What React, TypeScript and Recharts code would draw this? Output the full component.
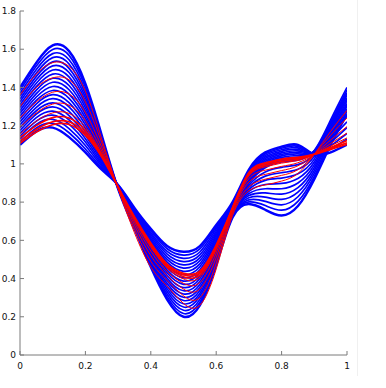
import { LineChart, Line, XAxis, YAxis } from "recharts";

// x positions shared by every curve
const xs = [0, 0.05, 0.1, 0.15, 0.2, 0.25, 0.3, 0.35, 0.4, 0.45, 0.5, 0.55, 0.6, 0.65, 0.7, 0.75, 0.8, 0.85, 0.9, 0.95, 1];

const xTicks = [0, 0.2, 0.4, 0.6, 0.8, 1];
const yTicks = [0, 0.2, 0.4, 0.6, 0.8, 1, 1.2, 1.4, 1.6, 1.8];

// blue family, from the tall/deep curve to the flat one
const blueCurves = [
  [1.4, 1.53, 1.62, 1.59, 1.42, 1.15, 0.87, 0.66, 0.46, 0.29, 0.2, 0.26, 0.47, 0.72, 0.79, 0.76, 0.73, 0.78, 0.92, 1.1, 1.26],
  [1.385, 1.512, 1.599, 1.568, 1.402, 1.141, 0.871, 0.666, 0.47, 0.304, 0.217, 0.276, 0.48, 0.724, 0.801, 0.782, 0.758, 0.804, 0.935, 1.113, 1.274],
  [1.37, 1.494, 1.577, 1.545, 1.384, 1.132, 0.872, 0.671, 0.48, 0.318, 0.234, 0.291, 0.491, 0.728, 0.812, 0.804, 0.786, 0.828, 0.95, 1.126, 1.288],
  [1.355, 1.476, 1.556, 1.523, 1.366, 1.123, 0.873, 0.677, 0.49, 0.332, 0.251, 0.307, 0.502, 0.732, 0.823, 0.826, 0.814, 0.852, 0.965, 1.139, 1.302],
  [1.34, 1.458, 1.534, 1.5, 1.348, 1.114, 0.874, 0.682, 0.5, 0.346, 0.268, 0.322, 0.512, 0.736, 0.834, 0.848, 0.842, 0.876, 0.98, 1.152, 1.316],
  [1.325, 1.44, 1.513, 1.478, 1.33, 1.105, 0.875, 0.688, 0.51, 0.36, 0.285, 0.338, 0.522, 0.74, 0.845, 0.87, 0.87, 0.9, 0.995, 1.165, 1.33],
  [1.31, 1.422, 1.491, 1.455, 1.312, 1.096, 0.876, 0.693, 0.52, 0.374, 0.302, 0.353, 0.533, 0.744, 0.856, 0.892, 0.898, 0.924, 1.01, 1.178, 1.344],
  [1.295, 1.404, 1.47, 1.433, 1.294, 1.087, 0.877, 0.699, 0.53, 0.388, 0.319, 0.369, 0.544, 0.748, 0.867, 0.914, 0.926, 0.948, 1.025, 1.191, 1.358],
  [1.28, 1.386, 1.448, 1.41, 1.276, 1.078, 0.878, 0.704, 0.54, 0.402, 0.336, 0.384, 0.554, 0.752, 0.878, 0.936, 0.954, 0.972, 1.04, 1.204, 1.372],
  [1.265, 1.368, 1.427, 1.388, 1.258, 1.069, 0.879, 0.71, 0.55, 0.416, 0.353, 0.4, 0.564, 0.756, 0.889, 0.958, 0.982, 0.996, 1.055, 1.217, 1.386],
  [1.25, 1.35, 1.405, 1.365, 1.24, 1.06, 0.88, 0.715, 0.56, 0.43, 0.37, 0.415, 0.575, 0.76, 0.9, 0.98, 1.01, 1.02, 1.07, 1.23, 1.4],
  [1.235, 1.332, 1.384, 1.343, 1.222, 1.051, 0.881, 0.721, 0.57, 0.444, 0.387, 0.431, 0.586, 0.764, 0.907, 0.988, 1.018, 1.028, 1.068, 1.213, 1.37],
  [1.22, 1.314, 1.362, 1.32, 1.204, 1.042, 0.882, 0.726, 0.58, 0.458, 0.404, 0.446, 0.596, 0.768, 0.914, 0.996, 1.026, 1.036, 1.066, 1.196, 1.34],
  [1.205, 1.296, 1.341, 1.298, 1.186, 1.033, 0.883, 0.732, 0.59, 0.472, 0.421, 0.462, 0.606, 0.772, 0.921, 1.004, 1.034, 1.044, 1.064, 1.179, 1.31],
  [1.19, 1.278, 1.319, 1.275, 1.168, 1.024, 0.884, 0.737, 0.6, 0.486, 0.438, 0.477, 0.617, 0.776, 0.928, 1.012, 1.042, 1.052, 1.062, 1.162, 1.28],
  [1.175, 1.26, 1.298, 1.253, 1.15, 1.015, 0.885, 0.743, 0.61, 0.5, 0.455, 0.493, 0.628, 0.78, 0.935, 1.02, 1.05, 1.06, 1.06, 1.145, 1.25],
  [1.16, 1.242, 1.276, 1.23, 1.132, 1.006, 0.886, 0.748, 0.62, 0.514, 0.472, 0.508, 0.638, 0.784, 0.942, 1.028, 1.058, 1.068, 1.058, 1.128, 1.22],
  [1.145, 1.224, 1.255, 1.208, 1.114, 0.997, 0.887, 0.754, 0.63, 0.528, 0.489, 0.524, 0.648, 0.788, 0.949, 1.036, 1.066, 1.076, 1.056, 1.111, 1.19],
  [1.13, 1.206, 1.233, 1.185, 1.096, 0.988, 0.888, 0.759, 0.64, 0.542, 0.506, 0.539, 0.659, 0.792, 0.956, 1.044, 1.074, 1.084, 1.054, 1.094, 1.16],
  [1.115, 1.188, 1.212, 1.163, 1.078, 0.979, 0.889, 0.765, 0.65, 0.556, 0.523, 0.555, 0.67, 0.796, 0.963, 1.052, 1.082, 1.092, 1.052, 1.077, 1.13],
  [1.1, 1.17, 1.19, 1.14, 1.06, 0.97, 0.89, 0.77, 0.66, 0.57, 0.54, 0.57, 0.68, 0.8, 0.97, 1.06, 1.09, 1.1, 1.05, 1.06, 1.1],
];

// red family: a few spread curves and a tight bundle near the bottom
const redCurves = [
  [1.36, 1.47, 1.53, 1.51, 1.38, 1.13, 0.87, 0.64, 0.46, 0.36, 0.27, 0.26, 0.45, 0.73, 0.86, 0.89, 0.91, 0.95, 1.05, 1.17, 1.28],
  [1.3, 1.4, 1.45, 1.44, 1.325, 1.11, 0.87, 0.66, 0.49, 0.39, 0.31, 0.3, 0.48, 0.74, 0.88, 0.92, 0.94, 0.97, 1.05, 1.15, 1.24],
  [1.24, 1.325, 1.375, 1.365, 1.27, 1.085, 0.875, 0.68, 0.52, 0.415, 0.345, 0.345, 0.51, 0.75, 0.905, 0.945, 0.965, 0.99, 1.05, 1.125, 1.195],
  [1.192, 1.267, 1.313, 1.307, 1.226, 1.067, 0.877, 0.696, 0.544, 0.437, 0.375, 0.379, 0.534, 0.758, 0.923, 0.967, 0.987, 1.006, 1.05, 1.107, 1.161],
  [1.156, 1.224, 1.267, 1.264, 1.193, 1.054, 0.879, 0.708, 0.562, 0.454, 0.398, 0.405, 0.552, 0.764, 0.937, 0.984, 1.004, 1.018, 1.05, 1.094, 1.136],
  [1.137, 1.2, 1.242, 1.24, 1.175, 1.046, 0.879, 0.714, 0.572, 0.462, 0.41, 0.418, 0.562, 0.767, 0.944, 0.992, 1.012, 1.024, 1.05, 1.086, 1.122],
  [1.12, 1.18, 1.22, 1.22, 1.16, 1.04, 0.88, 0.72, 0.58, 0.47, 0.42, 0.43, 0.57, 0.77, 0.95, 1.0, 1.02, 1.03, 1.05, 1.08, 1.11],
  [1.108, 1.166, 1.205, 1.206, 1.149, 1.036, 0.88, 0.724, 0.586, 0.476, 0.428, 0.439, 0.576, 0.772, 0.955, 1.006, 1.026, 1.034, 1.05, 1.076, 1.102],
];

const rows = xs.map((x, i) => {
  const row: Record<string, number> = { x };
  blueCurves.forEach((c, j) => (row[`b${j}`] = c[i]));
  redCurves.forEach((c, j) => (row[`r${j}`] = c[i]));
  return row;
});

const axisColor = "#7a7a7a";
const tickFont = { fill: "#111", fontSize: 9, fontFamily: "DejaVu Sans" };

export default function App() {
  return (
    <div style={{ position: "absolute", left: 0, top: 0, width: 386, height: 388, background: "#fff" }}>
      <div style={{ position: "absolute", left: 357, top: 0, width: 1, height: 376, background: "#f0f0f0" }} />
      <LineChart width={386} height={388} data={rows} margin={{ top: 11, right: 39, bottom: 11, left: 0 }}>
        <XAxis
          dataKey="x"
          type="number"
          domain={[0, 1]}
          ticks={xTicks}
          tickSize={-4}
          tickMargin={12}
          height={22}
          stroke={axisColor}
          tick={tickFont}
          allowDataOverflow
        />
        <XAxis
          xAxisId="top"
          orientation="top"
          dataKey="x"
          type="number"
          domain={[0, 1]}
          ticks={xTicks}
          tick={false}
          tickSize={-4}
          height={0}
          stroke={axisColor}
        />
        <YAxis
          type="number"
          domain={[0, 1.8]}
          ticks={yTicks}
          tickSize={-4}
          tickMargin={8}
          width={20}
          stroke={axisColor}
          tick={tickFont}
          allowDataOverflow
        />
        <YAxis
          yAxisId="right"
          orientation="right"
          type="number"
          domain={[0, 1.8]}
          ticks={yTicks}
          tick={false}
          tickSize={-4}
          width={0}
          stroke={axisColor}
        />
        {blueCurves.map((_, j) => (
          <Line
            key={`b${j}`}
            dataKey={`b${j}`}
            type="natural"
            stroke="#0000ff"
            strokeWidth={j === 0 || j === blueCurves.length - 1 ? 2.4 : 1.7}
            dot={false}
            activeDot={false}
            isAnimationActive={false}
          />
        ))}
        {redCurves.map((_, j) => (
          <Line
            key={`r${j}`}
            dataKey={`r${j}`}
            type="natural"
            stroke="#ff0000"
            strokeWidth={j >= 5 ? 1.6 : 1}
            dot={false}
            activeDot={false}
            isAnimationActive={false}
          />
        ))}
      </LineChart>
    </div>
  );
}
